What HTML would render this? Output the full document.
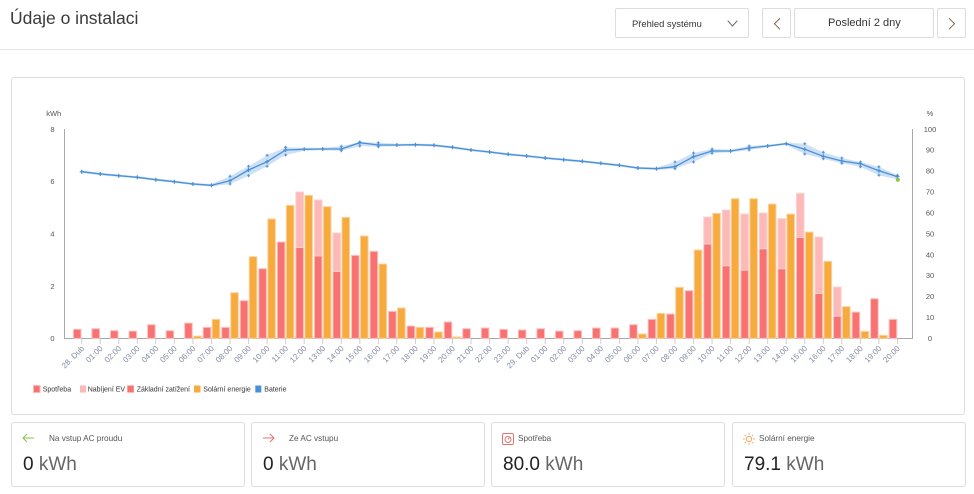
<!DOCTYPE html>
<html><head><meta charset="utf-8"><style>
*{margin:0;padding:0;box-sizing:border-box}
body{width:974px;height:494px;background:#fff;font-family:"Liberation Sans",sans-serif;position:relative;overflow:hidden;color:#333}
.abs{position:absolute}
.box{position:absolute;border:1px solid #dcdcdc;border-radius:2px;background:#fff}
.card{position:absolute;top:422px;height:65px;width:234px;border:1px solid #dcdcdc;border-radius:3px}
.lbl{position:absolute;left:37px;top:11px;font-size:8.2px;color:#555;white-space:nowrap}
.val{position:absolute;left:11px;top:31px;font-size:19px;color:#222;white-space:nowrap}
.val span{color:#666}
.ic{position:absolute;left:10px;top:10px}
</style></head><body>
<div class="abs" style="left:10px;top:8px;font-size:17.5px;color:#3a3a3a;white-space:nowrap">Údaje o instalaci</div>
<div class="box" style="left:615px;top:8px;width:134px;height:30px"></div>
<div class="abs" style="left:632px;top:18px;font-size:9.4px;color:#333;white-space:nowrap">Přehled systému</div>
<div class="box" style="left:762px;top:8px;width:29px;height:30px"></div>
<div class="box" style="left:794px;top:8px;width:140px;height:30px"></div>
<div class="abs" style="left:828px;top:16.5px;font-size:11px;color:#333;white-space:nowrap">Poslední 2 dny</div>
<div class="box" style="left:937px;top:8px;width:29px;height:30px"></div>
<div class="abs" style="left:0;top:49px;width:974px;height:1px;background:#e3e3e3"></div>
<div class="abs" style="left:11px;top:77px;width:954px;height:338px;border:1px solid #dcdcdc;border-radius:3px"></div>

<svg class="abs" style="left:0;top:0" width="974" height="494" viewBox="0 0 974 494" font-family="Liberation Sans, sans-serif">
<polyline points="727.7,20.7 732.5,26 737.3,20.7" fill="none" stroke="#666" stroke-width="1"/>
<polyline points="780,18.3 774.5,23.8 780,29.3" fill="none" stroke="#7a5a55" stroke-width="1"/>
<polyline points="949,18.3 954.5,23.8 949,29.3" fill="none" stroke="#7a6a55" stroke-width="1"/>

<!-- axes -->
<g stroke="#a8a8a8" stroke-width="1" fill="none">
<path d="M64.5 129V338.5H912.5V129"/>
</g>
<g stroke="#cfcfcf" stroke-width="1">
<path d="M81.7 339v5M100.24 339v5M118.78 339v5M137.32 339v5M155.86 339v5M174.4 339v5M192.94 339v5M211.48 339v5M230.02 339v5M248.56 339v5M267.1 339v5M285.64 339v5M304.18 339v5M322.72 339v5M341.26 339v5M359.8 339v5M378.34 339v5M396.88 339v5M415.42 339v5M433.96 339v5M452.5 339v5M471.04 339v5M489.58 339v5M508.12 339v5M526.66 339v5M545.2 339v5M563.74 339v5M582.28 339v5M600.82 339v5M619.36 339v5M637.9 339v5M656.44 339v5M674.98 339v5M693.52 339v5M712.06 339v5M730.6 339v5M749.14 339v5M767.68 339v5M786.22 339v5M804.76 339v5M823.3 339v5M841.84 339v5M860.38 339v5M878.92 339v5M897.46 339v5"/>
</g>

<!-- y labels -->
<g font-size="7.5" fill="#555">
<text x="53.7" y="116" text-anchor="middle">kWh</text>
<g text-anchor="end">
<text x="54.5" y="131.8">8</text><text x="54.5" y="184.2">6</text><text x="54.5" y="236.5">4</text><text x="54.5" y="288.8">2</text><text x="54.5" y="341">0</text>
</g>
<g text-anchor="middle">
<text x="930" y="116">%</text>
<text x="930" y="131.8">100</text><text x="930" y="152.7">90</text><text x="930" y="173.6">80</text><text x="930" y="194.5">70</text><text x="930" y="215.4">60</text><text x="930" y="236.3">50</text><text x="930" y="257.3">40</text><text x="930" y="278.2">30</text><text x="930" y="299.1">20</text><text x="930" y="320">10</text><text x="930" y="340.9">0</text>
</g>
</g>

<!-- bars -->
<g stroke-width="1">
<g fill="#f87272" stroke="#fcc0c0">
<rect x="73.4" y="329.3" width="7.6" height="9.1"/>
<rect x="91.94" y="328.7" width="7.6" height="9.7"/>
<rect x="110.48" y="330.7" width="7.6" height="7.7"/>
<rect x="129.02" y="331.1" width="7.6" height="7.3"/>
<rect x="147.56" y="324.7" width="7.6" height="13.7"/>
<rect x="166.1" y="330.7" width="7.6" height="7.7"/>
<rect x="184.64" y="323.1" width="7.6" height="15.3"/>
<rect x="203.18" y="327.4" width="7.6" height="11"/>
<rect x="221.72" y="327.4" width="7.6" height="11"/>
<rect x="240.26" y="300.7" width="7.6" height="37.7"/>
<rect x="258.8" y="268.7" width="7.6" height="69.7"/>
<rect x="277.34" y="242" width="7.6" height="96.4"/>
<rect x="295.88" y="247.4" width="7.6" height="91"/>
<rect x="314.42" y="256" width="7.6" height="82.4"/>
<rect x="332.96" y="271.4" width="7.6" height="67"/>
<rect x="351.5" y="255.4" width="7.6" height="83"/>
<rect x="370.04" y="251.4" width="7.6" height="87"/>
<rect x="388.58" y="311.4" width="7.6" height="27"/>
<rect x="407.12" y="326" width="7.6" height="12.4"/>
<rect x="425.66" y="327.4" width="7.6" height="11"/>
<rect x="444.2" y="322" width="7.6" height="16.4"/>
<rect x="462.74" y="328.7" width="7.6" height="9.7"/>
<rect x="481.28" y="328" width="7.6" height="10.4"/>
<rect x="499.82" y="329.4" width="7.6" height="9"/>
<rect x="518.36" y="330" width="7.6" height="8.4"/>
<rect x="536.9" y="328.7" width="7.6" height="9.7"/>
<rect x="555.44" y="331.1" width="7.6" height="7.3"/>
<rect x="573.98" y="330.7" width="7.6" height="7.7"/>
<rect x="592.52" y="328" width="7.6" height="10.4"/>
<rect x="611.06" y="328" width="7.6" height="10.4"/>
<rect x="629.6" y="324.7" width="7.6" height="13.7"/>
<rect x="648.14" y="319.4" width="7.6" height="19"/>
<rect x="666.68" y="314" width="7.6" height="24.4"/>
<rect x="685.22" y="290.7" width="7.6" height="47.7"/>
<rect x="703.76" y="244" width="7.6" height="94.4"/>
<rect x="722.3" y="265.7" width="7.6" height="72.7"/>
<rect x="740.84" y="270.1" width="7.6" height="68.3"/>
<rect x="759.38" y="248.7" width="7.6" height="89.7"/>
<rect x="777.92" y="268.7" width="7.6" height="69.7"/>
<rect x="796.46" y="237.4" width="7.6" height="101"/>
<rect x="815" y="293.4" width="7.6" height="45"/>
<rect x="833.54" y="316.1" width="7.6" height="22.3"/>
<rect x="852.08" y="312.1" width="7.6" height="26.3"/>
<rect x="870.62" y="298.7" width="7.6" height="39.7"/>
<rect x="889.16" y="319.4" width="7.6" height="19"/>
</g>
<g fill="#fdb8b8" stroke="#fdd0d0">
<rect x="295.88" y="192" width="7.6" height="55.4"/>
<rect x="314.42" y="200" width="7.6" height="56"/>
<rect x="332.96" y="233" width="7.6" height="38.4"/>
<rect x="703.76" y="217" width="7.6" height="27"/>
<rect x="722.3" y="210.1" width="7.6" height="55.6"/>
<rect x="740.84" y="214.1" width="7.6" height="56"/>
<rect x="759.38" y="213.1" width="7.6" height="35.6"/>
<rect x="777.92" y="218.7" width="7.6" height="50"/>
<rect x="796.46" y="193.4" width="7.6" height="44"/>
<rect x="815" y="237.1" width="7.6" height="56.3"/>
<rect x="833.54" y="287.1" width="7.6" height="29"/>
</g>
<g fill="#f7aa3e" stroke="#fbd39a">
<rect x="193.64" y="336.1" width="7.6" height="2.3"/>
<rect x="212.18" y="319.4" width="7.6" height="19"/>
<rect x="230.72" y="292.7" width="7.6" height="45.7"/>
<rect x="249.26" y="256.7" width="7.6" height="81.7"/>
<rect x="267.8" y="219" width="7.6" height="119.4"/>
<rect x="286.34" y="205.4" width="7.6" height="133"/>
<rect x="304.88" y="195.4" width="7.6" height="143"/>
<rect x="323.42" y="206.7" width="7.6" height="131.7"/>
<rect x="341.96" y="217.4" width="7.6" height="121"/>
<rect x="360.5" y="236" width="7.6" height="102.4"/>
<rect x="379.04" y="264" width="7.6" height="74.4"/>
<rect x="397.58" y="308" width="7.6" height="30.4"/>
<rect x="416.12" y="327.4" width="7.6" height="11"/>
<rect x="434.66" y="332" width="7.6" height="6.4"/>
<rect x="453.2" y="337" width="7.6" height="1.4"/>
<rect x="638.6" y="334" width="7.6" height="4.4"/>
<rect x="657.14" y="313.4" width="7.6" height="25"/>
<rect x="675.68" y="287.4" width="7.6" height="51"/>
<rect x="694.22" y="250" width="7.6" height="88.4"/>
<rect x="712.76" y="213.4" width="7.6" height="125"/>
<rect x="731.3" y="198.7" width="7.6" height="139.7"/>
<rect x="749.84" y="198.7" width="7.6" height="139.7"/>
<rect x="768.38" y="204.1" width="7.6" height="134.3"/>
<rect x="786.92" y="214.1" width="7.6" height="124.3"/>
<rect x="805.46" y="232.1" width="7.6" height="106.3"/>
<rect x="824" y="261.4" width="7.6" height="77"/>
<rect x="842.54" y="306.7" width="7.6" height="31.7"/>
<rect x="861.08" y="331.4" width="7.6" height="7"/>
<rect x="879.62" y="335.4" width="7.6" height="3"/>
</g>
</g>

<!-- battery band & line -->
<polygon fill="#4a90d9" fill-opacity="0.28" points="81.7,170.5 100.24,172.8 118.78,174.5 137.32,176.1 155.86,178.5 174.4,180.5 192.94,182.8 211.48,184 230.02,176.3 248.56,166.3 267.1,155.3 285.64,147.3 304.18,147.7 322.72,147.7 341.26,146.3 359.8,142 378.34,142.7 396.88,143.8 415.42,143.5 433.96,144.1 452.5,146.1 471.04,148.8 489.58,150.8 508.12,153.1 526.66,154.8 545.2,156.8 563.74,158.5 582.28,160.1 600.82,162.1 619.36,164.1 637.9,166.8 656.44,167.5 674.98,162 693.52,153 712.06,149 730.6,149.7 749.14,146 767.68,144.7 786.22,142.7 804.76,143.7 823.3,152.3 841.84,158 860.38,162 878.92,166.7 897.46,175.3 897.46,179.3 878.92,175.3 860.38,166.7 841.84,163.3 823.3,158.7 804.76,154 786.22,144.7 767.68,147.3 749.14,150 730.6,152.3 712.06,153.3 693.52,162 674.98,168.7 656.44,169.9 637.9,169.2 619.36,166.5 600.82,164.5 582.28,162.5 563.74,160.9 545.2,159.2 526.66,157.2 508.12,155.5 489.58,153.2 471.04,151.2 452.5,148.5 433.96,146.5 415.42,145.9 396.88,146.2 378.34,146.7 359.8,146 341.26,150.7 322.72,150.3 304.18,150.7 285.64,155 267.1,166.3 248.56,175.7 230.02,184 211.48,186.5 192.94,185.2 174.4,182.9 155.86,180.9 137.32,178.5 118.78,176.9 100.24,175.2 81.7,173"/>
<polyline fill="none" stroke="#4a90d9" stroke-width="1.3" points="81.7,171.7 100.24,174 118.78,175.7 137.32,177.3 155.86,179.7 174.4,181.7 192.94,184 211.48,185.3 230.02,180.7 248.56,170 267.1,161.7 285.64,150 304.18,149.3 322.72,149 341.26,149 359.8,142.7 378.34,145 396.88,145 415.42,144.7 433.96,145.3 452.5,147.3 471.04,150 489.58,152 508.12,154.3 526.66,156 545.2,158 563.74,159.7 582.28,161.3 600.82,163.3 619.36,165.3 637.9,168 656.44,168.7 674.98,166.7 693.52,156.7 712.06,151 730.6,151 749.14,148 767.68,146 786.22,143.7 804.76,149.3 823.3,156.3 841.84,161 860.38,163.7 878.92,170.7 897.46,176.7"/>
<path fill="none" stroke="#4a90d9" stroke-width="1.2" d="M79.7 171.7h4M81.7 169.7v4M98.24 174h4M100.24 172v4M116.78 175.7h4M118.78 173.7v4M135.32 177.3h4M137.32 175.3v4M153.86 179.7h4M155.86 177.7v4M172.4 181.7h4M174.4 179.7v4M190.94 184h4M192.94 182v4M209.48 185.3h4M211.48 183.3v4M228.02 180.7h4M230.02 178.7v4M246.56 170h4M248.56 168v4M265.1 161.7h4M267.1 159.7v4M283.64 150h4M285.64 148v4M302.18 149.3h4M304.18 147.3v4M320.72 149h4M322.72 147v4M339.26 149h4M341.26 147v4M357.8 142.7h4M359.8 140.7v4M376.34 145h4M378.34 143v4M394.88 145h4M396.88 143v4M413.42 144.7h4M415.42 142.7v4M431.96 145.3h4M433.96 143.3v4M450.5 147.3h4M452.5 145.3v4M469.04 150h4M471.04 148v4M487.58 152h4M489.58 150v4M506.12 154.3h4M508.12 152.3v4M524.66 156h4M526.66 154v4M543.2 158h4M545.2 156v4M561.74 159.7h4M563.74 157.7v4M580.28 161.3h4M582.28 159.3v4M598.82 163.3h4M600.82 161.3v4M617.36 165.3h4M619.36 163.3v4M635.9 168h4M637.9 166v4M654.44 168.7h4M656.44 166.7v4M672.98 166.7h4M674.98 164.7v4M691.52 156.7h4M693.52 154.7v4M710.06 151h4M712.06 149v4M728.6 151h4M730.6 149v4M747.14 148h4M749.14 146v4M765.68 146h4M767.68 144v4M784.22 143.7h4M786.22 141.7v4M802.76 149.3h4M804.76 147.3v4M821.3 156.3h4M823.3 154.3v4M839.84 161h4M841.84 159v4M858.38 163.7h4M860.38 161.7v4M876.92 170.7h4M878.92 168.7v4M895.46 176.7h4M897.46 174.7v4"/>
<path fill="none" stroke="#4a90d9" stroke-width="1" d="M228.52 176.3h3M230.02 174.8v3M228.52 184h3M230.02 182.5v3M247.06 166.3h3M248.56 164.8v3M247.06 175.7h3M248.56 174.2v3M265.6 155.3h3M267.1 153.8v3M265.6 166.3h3M267.1 164.8v3M284.14 147.3h3M285.64 145.8v3M284.14 155h3M285.64 153.5v3M339.76 146.3h3M341.26 144.8v3M339.76 150.7h3M341.26 149.2v3M358.3 142h3M359.8 140.5v3M358.3 146h3M359.8 144.5v3M376.84 142.7h3M378.34 141.2v3M376.84 146.7h3M378.34 145.2v3M673.48 162h3M674.98 160.5v3M673.48 168.7h3M674.98 167.2v3M692.02 153h3M693.52 151.5v3M692.02 162h3M693.52 160.5v3M710.56 149h3M712.06 147.5v3M710.56 153.3h3M712.06 151.8v3M747.64 146h3M749.14 144.5v3M747.64 150h3M749.14 148.5v3M803.26 143.7h3M804.76 142.2v3M803.26 154h3M804.76 152.5v3M821.8 152.3h3M823.3 150.8v3M821.8 158.7h3M823.3 157.2v3M840.34 158h3M841.84 156.5v3M840.34 163.3h3M841.84 161.8v3M858.88 162h3M860.38 160.5v3M858.88 166.7h3M860.38 165.2v3M877.42 166.7h3M878.92 165.2v3M877.42 175.3h3M878.92 173.8v3M895.96 175.3h3M897.46 173.8v3M895.96 179.3h3M897.46 177.8v3"/>
<circle cx="897.8" cy="179.7" r="2" fill="#8bc34a"/>

<!-- x labels -->
<g font-size="8" fill="#7f88a0" text-anchor="end">
<text transform="translate(84.7 349) rotate(-45)">28. Dub</text>
<text transform="translate(103.24 349) rotate(-45)">01:00</text>
<text transform="translate(121.78 349) rotate(-45)">02:00</text>
<text transform="translate(140.32 349) rotate(-45)">03:00</text>
<text transform="translate(158.86 349) rotate(-45)">04:00</text>
<text transform="translate(177.4 349) rotate(-45)">05:00</text>
<text transform="translate(195.94 349) rotate(-45)">06:00</text>
<text transform="translate(214.48 349) rotate(-45)">07:00</text>
<text transform="translate(233.02 349) rotate(-45)">08:00</text>
<text transform="translate(251.56 349) rotate(-45)">09:00</text>
<text transform="translate(270.1 349) rotate(-45)">10:00</text>
<text transform="translate(288.64 349) rotate(-45)">11:00</text>
<text transform="translate(307.18 349) rotate(-45)">12:00</text>
<text transform="translate(325.72 349) rotate(-45)">13:00</text>
<text transform="translate(344.26 349) rotate(-45)">14:00</text>
<text transform="translate(362.8 349) rotate(-45)">15:00</text>
<text transform="translate(381.34 349) rotate(-45)">16:00</text>
<text transform="translate(399.88 349) rotate(-45)">17:00</text>
<text transform="translate(418.42 349) rotate(-45)">18:00</text>
<text transform="translate(436.96 349) rotate(-45)">19:00</text>
<text transform="translate(455.5 349) rotate(-45)">20:00</text>
<text transform="translate(474.04 349) rotate(-45)">21:00</text>
<text transform="translate(492.58 349) rotate(-45)">22:00</text>
<text transform="translate(511.12 349) rotate(-45)">23:00</text>
<text transform="translate(529.66 349) rotate(-45)">29. Dub</text>
<text transform="translate(548.2 349) rotate(-45)">01:00</text>
<text transform="translate(566.74 349) rotate(-45)">02:00</text>
<text transform="translate(585.28 349) rotate(-45)">03:00</text>
<text transform="translate(603.82 349) rotate(-45)">04:00</text>
<text transform="translate(622.36 349) rotate(-45)">05:00</text>
<text transform="translate(640.9 349) rotate(-45)">06:00</text>
<text transform="translate(659.44 349) rotate(-45)">07:00</text>
<text transform="translate(677.98 349) rotate(-45)">08:00</text>
<text transform="translate(696.52 349) rotate(-45)">09:00</text>
<text transform="translate(715.06 349) rotate(-45)">10:00</text>
<text transform="translate(733.6 349) rotate(-45)">11:00</text>
<text transform="translate(752.14 349) rotate(-45)">12:00</text>
<text transform="translate(770.68 349) rotate(-45)">13:00</text>
<text transform="translate(789.22 349) rotate(-45)">14:00</text>
<text transform="translate(807.76 349) rotate(-45)">15:00</text>
<text transform="translate(826.3 349) rotate(-45)">16:00</text>
<text transform="translate(844.84 349) rotate(-45)">17:00</text>
<text transform="translate(863.38 349) rotate(-45)">18:00</text>
<text transform="translate(881.92 349) rotate(-45)">19:00</text>
<text transform="translate(900.46 349) rotate(-45)">20:00</text>
</g>

<!-- legend -->
<rect x="33.5" y="385.5" width="6.5" height="7" fill="#f87272" stroke="#fdb8b8" stroke-width="1"/>
<rect x="80" y="385.5" width="6" height="7" fill="#fdb8b8"/>
<rect x="127.3" y="385.5" width="6.5" height="7" fill="#f87272"/>
<rect x="194" y="385.5" width="6.5" height="7" fill="#f7aa3e"/>
<rect x="255.3" y="385.5" width="6" height="7" fill="#4a90d9"/>
<g font-size="7" fill="#333">
<text x="42.7" y="391.5">Spotřeba</text>
<text x="87.7" y="391.5">Nabíjení EV</text>
<text x="136.7" y="391.5">Základní zatížení</text>
<text x="203.3" y="391.5">Solární energie</text>
<text x="264.3" y="391.5">Baterie</text>
</g>
</svg>

<div class="card" style="left:11px">
<svg class="ic" width="13" height="10" viewBox="0 0 13 10"><path d="M12 5H1M5 1L1 5L5 9" fill="none" stroke="#8bc34a" stroke-width="1"/></svg>
<div class="lbl">Na vstup AC proudu</div>
<div class="val">0 <span>kWh</span></div>
</div>
<div class="card" style="left:251px">
<svg class="ic" width="13" height="10" viewBox="0 0 13 10"><path d="M1 5H12M8 1L12 5L8 9" fill="none" stroke="#e57373" stroke-width="1"/></svg>
<div class="lbl">Ze AC vstupu</div>
<div class="val">0 <span>kWh</span></div>
</div>
<div class="card" style="left:491px">
<svg class="ic" width="12" height="12" viewBox="0 0 12 12"><rect x="0.5" y="0.5" width="11" height="11" rx="1.5" fill="none" stroke="#e57373"/><circle cx="6" cy="6.5" r="3" fill="none" stroke="#e57373"/><path d="M6 6.5L7.5 4.5" stroke="#e57373"/></svg>
<div class="lbl" style="left:26px">Spotřeba</div>
<div class="val">80.0 <span>kWh</span></div>
</div>
<div class="card" style="left:732px">
<svg class="ic" width="12" height="12" viewBox="0 0 12 12"><circle cx="6" cy="6" r="2.6" fill="none" stroke="#f5a65b"/><path d="M6 0v1.8M6 10.2V12M0 6h1.8M10.2 6H12M1.8 1.8l1.2 1.2M9 9l1.2 1.2M1.8 10.2L3 9M9 3l1.2-1.2" stroke="#f5a65b"/></svg>
<div class="lbl" style="left:26px">Solární energie</div>
<div class="val">79.1 <span>kWh</span></div>
</div>
</body></html>
